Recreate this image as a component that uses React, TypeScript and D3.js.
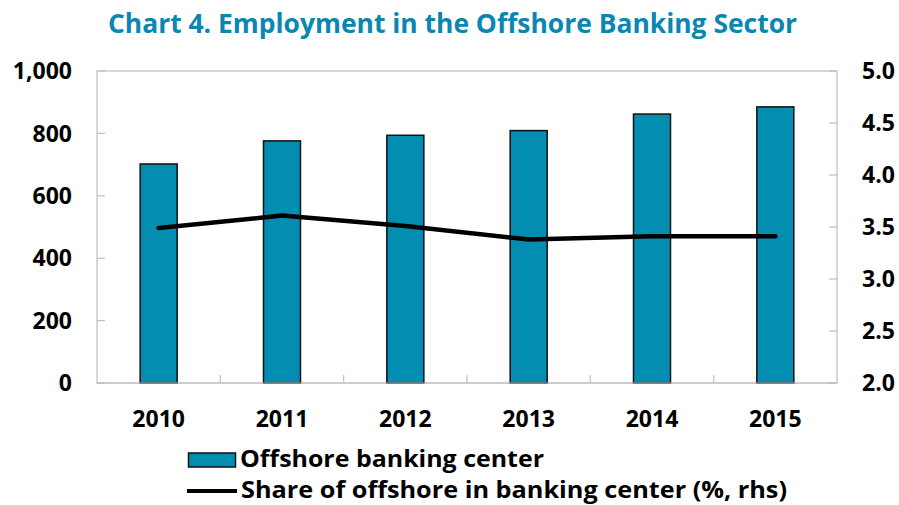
import React from "react";
import * as d3 from "d3";

const years = ["2010", "2011", "2012", "2013", "2014", "2015"];
const employment = [702, 776, 794, 809, 862, 885];
const sharePct = [3.49, 3.61, 3.51, 3.38, 3.41, 3.41];
const leftTicks = [0, 200, 400, 600, 800, 1000];
const rightTicks = [2.0, 2.5, 3.0, 3.5, 4.0, 4.5, 5.0];

const title = "Chart 4. Employment in the Offshore Banking Sector";
const legendBar = "Offshore banking center";
const legendLine = "Share of offshore in banking center (%, rhs)";

const W = 899;
const H = 505;
const M = { left: 97, right: 837, top: 71, bottom: 383 };
const FONT = "'Open Sans', 'DejaVu Sans', sans-serif";
const TITLE_COLOR = "#0a86b2";
const BAR_COLOR = "#028db1";
const AXIS_GREY = "#bfbfbf";

export default function App() {
  const xOuter = d3.scaleBand<string>().domain(years).range([M.left, M.right]).padding(0);
  const yL = d3.scaleLinear().domain([0, 1000]).range([M.bottom, M.top]);
  const yR = d3.scaleLinear().domain([2, 5]).range([M.bottom, M.top]);
  const cx = (yv: string) => (xOuter(yv) as number) + xOuter.bandwidth() / 2;

  const line = d3
    .line<number>()
    .x((_, i) => cx(years[i]))
    .y((d) => yR(d));

  const tickLen = 8;
  const barW = xOuter.bandwidth() * 0.3;

  return (
    <div style={{ position: "absolute", left: 0, top: 0 }}>
      <svg width={W} height={H} style={{ display: "block", fontFamily: FONT }}>
        <rect x={0} y={0} width={W} height={H} fill="#fff" />
        <text
          x={108}
          y={33}
          fontSize={26}
          fontWeight={700}
          fill={TITLE_COLOR}
          textLength={689}
          lengthAdjust="spacingAndGlyphs"
        >
          {title}
        </text>

        <rect
          x={M.left}
          y={M.top}
          width={M.right - M.left}
          height={M.bottom - M.top}
          fill="#fff"
          stroke={AXIS_GREY}
          strokeWidth={1.2}
        />

        {leftTicks.map((t) => (
          <line key={"lt" + t} x1={M.left} x2={M.left + tickLen} y1={yL(t)} y2={yL(t)} stroke={AXIS_GREY} strokeWidth={1.2} />
        ))}
        {rightTicks.map((t) => (
          <line key={"rt" + t} x1={M.right - tickLen} x2={M.right} y1={yR(t)} y2={yR(t)} stroke={AXIS_GREY} strokeWidth={1.2} />
        ))}
        {years.slice(1).map((yv) => (
          <line
            key={"xt" + yv}
            x1={xOuter(yv) as number}
            x2={xOuter(yv) as number}
            y1={M.bottom}
            y2={M.bottom - tickLen}
            stroke={AXIS_GREY}
            strokeWidth={1.2}
          />
        ))}

        {years.map((yv, i) => (
          <rect
            key={"b" + yv}
            x={cx(yv) - barW / 2}
            y={yL(employment[i])}
            width={barW}
            height={M.bottom - yL(employment[i])}
            fill={BAR_COLOR}
            stroke="#111"
            strokeWidth={1.5}
          />
        ))}

        <line x1={M.left} x2={M.right} y1={M.bottom} y2={M.bottom} stroke={AXIS_GREY} strokeWidth={1.2} />

        <path d={line(sharePct) || ""} fill="none" stroke="#000" strokeWidth={4.5} strokeLinecap="round" strokeLinejoin="round" />

        {leftTicks.map((t) => (
          <text key={"ll" + t} x={72} y={yL(t)} dy="0.36em" textAnchor="end" fontSize={23} fontWeight={700} fill="#000">
            {d3.format(",")(t)}
          </text>
        ))}
        {rightTicks.map((t) => (
          <text key={"rl" + t} x={862} y={yR(t)} dy="0.36em" textAnchor="start" fontSize={23} fontWeight={700} fill="#000">
            {d3.format(".1f")(t)}
          </text>
        ))}
        {years.map((yv) => (
          <text key={"xl" + yv} x={cx(yv)} y={427} textAnchor="middle" fontSize={23} fontWeight={700} fill="#000">
            {yv}
          </text>
        ))}

        <rect x={188.5} y={453} width={47} height={14} fill={BAR_COLOR} stroke="#111" strokeWidth={1.5} />
        <text x={240} y={467} fontSize={23} fontWeight={700} fill="#000" textLength={304} lengthAdjust="spacingAndGlyphs">
          {legendBar}
        </text>
        <line x1={187} x2={237} y1={491} y2={491} stroke="#000" strokeWidth={4} />
        <text x={241} y={498} fontSize={23} fontWeight={700} fill="#000" textLength={546} lengthAdjust="spacingAndGlyphs">
          {legendLine}
        </text>
      </svg>
    </div>
  );
}
